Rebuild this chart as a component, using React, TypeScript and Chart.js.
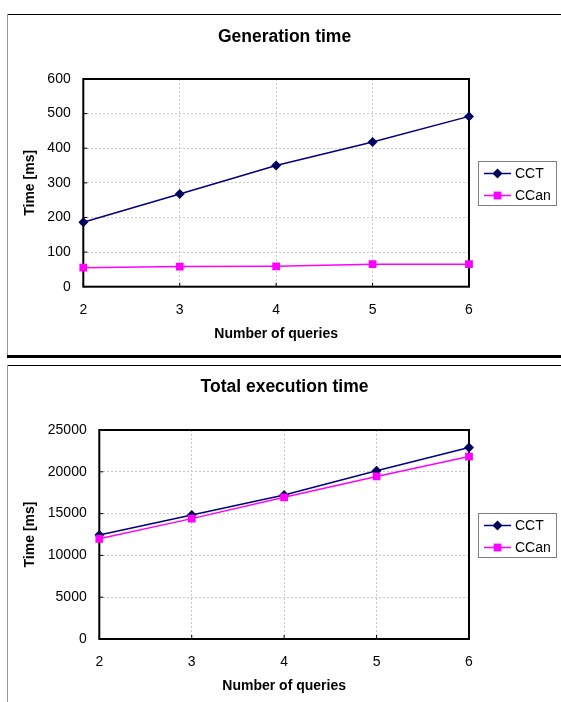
import React, { useEffect, useRef } from 'react';
import { Chart, registerables } from 'chart.js';

Chart.register(...registerables);

const FONT = "'Liberation Sans', Arial, Helvetica, sans-serif";

// ---- data ----
const queries = ['2', '3', '4', '5', '6'];
const seriesNames = ['CCT', 'CCan'];

const genCCT = [186, 268, 350, 418, 492];
const genCCan = [55, 58, 59, 65, 65];
const genTicks = [0, 100, 200, 300, 400, 500, 600];

const totalCCT = [12450, 14830, 17220, 20130, 22900];
const totalCCan = [11980, 14400, 16950, 19450, 21820];
const totalTicks = [0, 5000, 10000, 15000, 20000, 25000];

const titles = ['Generation time', 'Total execution time'];
const xTitle = 'Number of queries';
const yTitle = 'Time [ms]';

const CCT_COLOR = '#000080';
const CCT_MARK = '#00005a';
const CCAN_COLOR = '#ff00ff';

const framePlugin = {
  id: 'frame',
  beforeDatasetsDraw(chart: any) {
    const { ctx, chartArea: a, scales } = chart;
    const x = scales.x;
    const y = scales.y;
    ctx.save();
    ctx.strokeStyle = '#000';
    ctx.lineWidth = 1;
    ctx.beginPath();
    y.ticks.forEach((_t: any, i: number) => {
      const p = y.getPixelForTick(i);
      ctx.moveTo(a.left, p);
      ctx.lineTo(a.left + 4, p);
    });
    x.ticks.forEach((_t: any, i: number) => {
      const p = x.getPixelForTick(i);
      ctx.moveTo(p, a.bottom);
      ctx.lineTo(p, a.bottom - 4);
    });
    ctx.stroke();
    ctx.lineWidth = 2;
    ctx.strokeRect(a.left, a.top, a.right - a.left, a.bottom - a.top);
    ctx.restore();
  },
};

const legendPlugin = {
  id: 'boxLegend',
  afterDraw(chart: any) {
    const { ctx, chartArea: a } = chart;
    const bw = 78;
    const bh = 44;
    const bx = Math.round(a.right + 9);
    const by = Math.round((a.top + a.bottom) / 2 - bh / 2);
    ctx.save();
    ctx.fillStyle = '#fff';
    ctx.fillRect(bx, by, bw, bh);
    ctx.strokeStyle = '#808080';
    ctx.lineWidth = 1;
    ctx.strokeRect(bx + 0.5, by + 0.5, bw, bh);
    const items = [...chart.data.datasets].sort((p: any, q: any) => p.legendIndex - q.legendIndex);
    items.forEach((ds: any, i: number) => {
      const cy = by + 12.5 + i * 22;
      ctx.strokeStyle = ds.borderColor;
      ctx.lineWidth = 1.5;
      ctx.beginPath();
      ctx.moveTo(bx + 6, cy);
      ctx.lineTo(bx + 33, cy);
      ctx.stroke();
      const mx = bx + 19.5;
      ctx.fillStyle = ds.pointBackgroundColor;
      ctx.beginPath();
      if (ds.pointStyle === 'rectRot') {
        const r = 5;
        ctx.moveTo(mx, cy - r);
        ctx.lineTo(mx + r, cy);
        ctx.lineTo(mx, cy + r);
        ctx.lineTo(mx - r, cy);
        ctx.closePath();
      } else {
        const s = 3.9;
        ctx.rect(mx - s, cy - s, 2 * s, 2 * s);
      }
      ctx.fill();
      ctx.fillStyle = '#000';
      ctx.font = `14px ${FONT}`;
      ctx.textBaseline = 'middle';
      ctx.textAlign = 'left';
      ctx.fillText(ds.label, bx + 37, cy + 0.5);
    });
    ctx.restore();
  },
};

type ChartSpec = {
  title: string;
  cct: number[];
  ccan: number[];
  ticks: number[];
  yWidth: number;
  xHeight: number;
  titlePad: { top: number; bottom: number };
  xTickPad: number;
  xTitlePad: number;
};

function makeConfig(spec: ChartSpec): any {
  const step = spec.ticks[1] - spec.ticks[0];
  return {
    type: 'line',
    data: {
      labels: queries,
      datasets: [
        {
          label: seriesNames[0],
          legendIndex: 0,
          data: spec.cct,
          borderColor: CCT_COLOR,
          borderWidth: 1.5,
          pointStyle: 'rectRot',
          pointRadius: 5,
          pointBackgroundColor: CCT_MARK,
          pointBorderColor: CCT_MARK,
          pointBorderWidth: 0,
          tension: 0,
          order: 1,
        },
        {
          label: seriesNames[1],
          legendIndex: 1,
          data: spec.ccan,
          borderColor: CCAN_COLOR,
          borderWidth: 1.5,
          pointStyle: 'rect',
          pointRadius: 5.5,
          pointBackgroundColor: CCAN_COLOR,
          pointBorderColor: CCAN_COLOR,
          pointBorderWidth: 0,
          tension: 0,
          order: 0,
        },
      ],
    },
    options: {
      animation: false,
      responsive: true,
      maintainAspectRatio: false,
      layout: { padding: 0 },
      plugins: {
        legend: { display: false },
        tooltip: { enabled: false },
        title: {
          display: true,
          text: spec.title,
          color: '#000',
          font: { family: FONT, size: 17.5, weight: 'bold', lineHeight: 1.2 },
          padding: spec.titlePad,
        },
      },
      scales: {
        x: {
          type: 'category',
          offset: false,
          grid: {
            display: true,
            color: '#c8c8c8',
            lineWidth: 1,
            drawTicks: false,
          },
          border: { display: false, dash: [2, 2] },
          ticks: {
            color: '#000',
            font: { family: FONT, size: 14 },
            padding: spec.xTickPad,
            maxRotation: 0,
          },
          title: {
            display: true,
            text: xTitle,
            color: '#000',
            font: { family: FONT, size: 14, weight: 'bold', lineHeight: 1.2 },
            padding: spec.xTitlePad,
          },
          afterFit: (s: any) => {
            s.height = spec.xHeight;
          },
        },
        y: {
          type: 'linear',
          position: 'left',
          min: spec.ticks[0],
          max: spec.ticks[spec.ticks.length - 1],
          grid: {
            display: true,
            color: '#c8c8c8',
            lineWidth: 1,
            drawTicks: false,
          },
          border: { display: false, dash: [2, 2] },
          ticks: {
            stepSize: step,
            color: '#000',
            font: { family: FONT, size: 14 },
            padding: 12.6,
            callback: (v: any) => String(v),
          },
          title: {
            display: true,
            text: yTitle,
            color: '#000',
            font: { family: FONT, size: 14, weight: 'bold', lineHeight: 1.2 },
            padding: 13.6,
          },
          afterFit: (s: any) => {
            s.width = spec.yWidth;
          },
        },
        right: {
          type: 'linear',
          position: 'right',
          display: true,
          grid: { display: false },
          border: { display: false },
          ticks: { display: false },
          afterFit: (s: any) => {
            s.width = 92;
          },
        },
      },
    },
    plugins: [framePlugin, legendPlugin],
  };
}

function LineChart({ spec, style }: { spec: ChartSpec; style: React.CSSProperties }) {
  const ref = useRef<HTMLCanvasElement | null>(null);
  useEffect(() => {
    if (!ref.current) return;
    const chart = new Chart(ref.current, makeConfig(spec));
    return () => chart.destroy();
  }, [spec]);
  return (
    <div style={{ position: 'absolute', ...style }}>
      <canvas ref={ref} />
    </div>
  );
}

const topSpec: ChartSpec = {
  title: titles[0],
  cct: genCCT,
  ccan: genCCan,
  ticks: genTicks,
  yWidth: 75.3,
  xHeight: 69.3,
  titlePad: { top: 10.5, bottom: 31.5 },
  xTickPad: 15,
  xTitlePad: 13,
};

const bottomSpec: ChartSpec = {
  title: titles[1],
  cct: totalCCT,
  ccan: totalCCan,
  ticks: totalTicks,
  yWidth: 91.3,
  xHeight: 63,
  titlePad: { top: 9.7, bottom: 32.3 },
  xTickPad: 14.5,
  xTitlePad: 7,
};

export default function App() {
  return (
    <div
      style={{
        position: 'absolute',
        left: 0,
        top: 0,
        width: 561,
        height: 702,
        overflow: 'hidden',
        background: '#fff',
      }}
    >
      <LineChart spec={topSpec} style={{ left: 8, top: 16, width: 553, height: 340 }} />
      <LineChart spec={bottomSpec} style={{ left: 8, top: 367, width: 553, height: 335 }} />

      {/* frame of the first figure */}
      <div style={{ position: 'absolute', left: 7, top: 14, width: 554, height: 1, background: '#000' }} />
      <div style={{ position: 'absolute', left: 7, top: 14, width: 1, height: 343, background: '#9a9a9a' }} />
      <div style={{ position: 'absolute', left: 7, top: 355, width: 554, height: 3, background: '#000' }} />

      {/* frame of the second figure */}
      <div style={{ position: 'absolute', left: 7, top: 365, width: 554, height: 1, background: '#000' }} />
      <div style={{ position: 'absolute', left: 7, top: 365, width: 1, height: 337, background: '#9a9a9a' }} />
    </div>
  );
}
